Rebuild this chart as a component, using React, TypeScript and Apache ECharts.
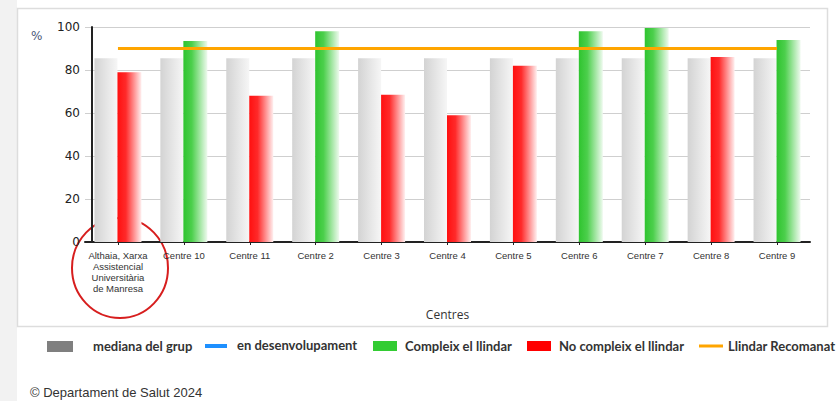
import React, { useEffect, useRef } from "react";
import * as echarts from "echarts";

const categories: string[] = [
  "Althaia, Xarxa Assistencial Universitària de Manresa",
  "Centre 10",
  "Centre 11",
  "Centre 2",
  "Centre 3",
  "Centre 4",
  "Centre 5",
  "Centre 6",
  "Centre 7",
  "Centre 8",
  "Centre 9",
];
const centreValues: number[] = [79, 93.5, 68, 98, 68.5, 59, 82, 98, 99.5, 86, 94];
const groupMedian: number[] = [85.5, 85.5, 85.5, 85.5, 85.5, 85.5, 85.5, 85.5, 85.5, 85.5, 85.5];
const threshold: number[] = [90, 90, 90, 90, 90, 90, 90, 90, 90, 90, 90];
const yTicks: number[] = [0, 20, 40, 60, 80, 100];

const legendLabels = {
  median: "mediana del grup",
  dev: "en desenvolupament",
  ok: "Compleix el llindar",
  ko: "No compleix el llindar",
  line: "Llindar Recomanat",
};

function wrap(s: string, max = 14): string {
  const words = s.split(" ");
  const lines: string[] = [];
  let cur = "";
  for (const w of words) {
    if (!cur) cur = w;
    else if ((cur + " " + w).length <= max) cur += " " + w;
    else {
      lines.push(cur);
      cur = w;
    }
  }
  if (cur) lines.push(cur);
  return lines.join("\n");
}

const redGrad = () =>
  new echarts.graphic.LinearGradient(0, 0, 1, 0, [
    { offset: 0, color: "#ff1010" },
    { offset: 0.35, color: "#ff2a2a" },
    { offset: 1, color: "#fff0f0" },
  ]);
const greenGrad = () =>
  new echarts.graphic.LinearGradient(0, 0, 1, 0, [
    { offset: 0, color: "#2fc42f" },
    { offset: 0.35, color: "#4ccf4c" },
    { offset: 1, color: "#eefaee" },
  ]);
const grayGrad = () =>
  new echarts.graphic.LinearGradient(0, 0, 1, 0, [
    { offset: 0, color: "#d3d3d3" },
    { offset: 1, color: "#f6f6f6" },
  ]);

export default function App() {
  const ref = useRef<HTMLDivElement>(null);
  useEffect(() => {
    if (!ref.current) return;
    const chart = echarts.init(ref.current, null, { renderer: "svg" });
    const legendY = 346;
    const legendFont = {
      fontFamily: "Lato",
      fontWeight: "bold" as const,
      fontSize: 13,
      fill: "#333",
    };
    chart.setOption({
      animation: false,
      backgroundColor: "#ffffff",
      grid: { left: 85, right: 28, top: 27, bottom: 159 },
      xAxis: {
        type: "category",
        data: categories,
        name: "Centres",
        nameLocation: "middle",
        nameGap: 66,
        nameTextStyle: { fontFamily: "Open Sans", fontSize: 12, color: "#333" },
        axisLine: { lineStyle: { color: "#222", width: 2 } },
        axisTick: { show: true, alignWithLabel: true, length: 3, lineStyle: { color: "#222" } },
        axisLabel: {
          interval: 0,
          margin: 8,
          fontFamily: "Liberation Sans",
          fontSize: 9.5,
          lineHeight: 11,
          color: "#333",
          formatter: (v: string) => wrap(v),
        },
      },
      yAxis: {
        type: "value",
        min: yTicks[0],
        max: yTicks[yTicks.length - 1],
        interval: 20,
        offset: -7,
        axisLine: { show: true, lineStyle: { color: "#222", width: 2 } },
        axisTick: { show: false },
        splitLine: { lineStyle: { color: "#cfcfcf", width: 1 } },
        axisLabel: { fontFamily: "DejaVu Sans", fontSize: 12, color: "#222", margin: 12 },
      },
      series: [
        {
          name: legendLabels.median,
          type: "bar",
          data: groupMedian,
          barWidth: 23,
          barGap: "0%",
          itemStyle: { color: grayGrad() },
        },
        {
          name: "valor",
          type: "bar",
          barWidth: 24,
          barGap: "0%",
          data: centreValues.map((v, i) => ({
            value: v,
            itemStyle: { color: v >= threshold[i] ? greenGrad() : redGrad() },
          })),
        },
        {
          name: legendLabels.line,
          type: "line",
          data: threshold,
          symbol: "none",
          lineStyle: { color: "#ffa500", width: 3 },
          z: 5,
        },
      ],
      graphic: [
        { type: "rect", z: -10, shape: { x: 0, y: 0, width: 17, height: 401 }, style: { fill: "#f2f2f2" } },
        {
          type: "rect",
          z: -5,
          silent: true,
          shape: { x: 17.5, y: 8.5, width: 810, height: 318 },
          style: { fill: "none", stroke: "#dddddd", lineWidth: 1.5 },
        },
        {
          type: "text",
          x: 31,
          y: 30,
          style: { text: "%", fontFamily: "DejaVu Sans", fontSize: 12, fill: "#4b5878" },
        },
        {
          type: "ellipse",
          shape: { cx: 120, cy: 268, rx: 48, ry: 50 },
          style: { fill: "none", stroke: "#d71e1e", lineWidth: 2 },
        },
        // legend
        { type: "rect", shape: { x: 47, y: legendY - 5, width: 26, height: 11 }, style: { fill: "#7f7f7f" } },
        { type: "text", x: 93, y: legendY, style: { ...legendFont, text: legendLabels.median, verticalAlign: "middle" } },
        { type: "rect", shape: { x: 205, y: legendY - 2, width: 22, height: 4 }, style: { fill: "#1e90ff" } },
        { type: "text", x: 237, y: legendY - 1, style: { ...legendFont, text: legendLabels.dev, verticalAlign: "middle" } },
        { type: "rect", shape: { x: 373, y: legendY - 5, width: 24, height: 10 }, style: { fill: "#33cc33" } },
        { type: "text", x: 405, y: legendY, style: { ...legendFont, text: legendLabels.ok, verticalAlign: "middle" } },
        { type: "rect", shape: { x: 527, y: legendY - 5, width: 24, height: 10 }, style: { fill: "#ff0000" } },
        { type: "text", x: 559, y: legendY, style: { ...legendFont, text: legendLabels.ko, verticalAlign: "middle" } },
        { type: "rect", shape: { x: 699, y: legendY - 1.5, width: 24, height: 3 }, style: { fill: "#ffa500" } },
        { type: "text", x: 728, y: legendY, style: { ...legendFont, text: legendLabels.line, verticalAlign: "middle" } },
        {
          type: "text",
          x: 30,
          y: 386,
          style: {
            text: "© Departament de Salut 2024",
            fontFamily: "Liberation Sans",
            fontSize: 13,
            fill: "#333",
            verticalAlign: "top",
          },
        },
      ],
    });
    return () => chart.dispose();
  }, []);
  return (
    <div
      ref={ref}
      style={{ position: "fixed", left: 0, top: 0, width: 838, height: 401 }}
    />
  );
}
